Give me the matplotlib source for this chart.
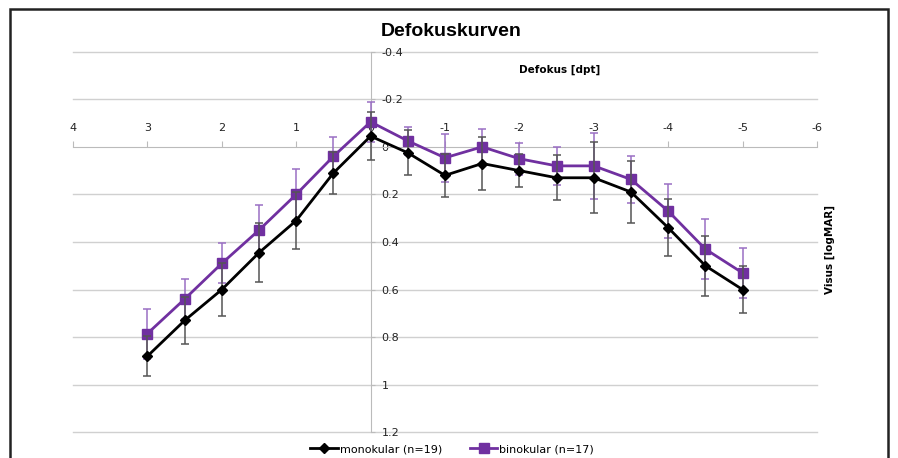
import matplotlib.pyplot as plt
from matplotlib.patches import Rectangle
from matplotlib.lines import Line2D

# defocus in dpt
defokus = [3, 2.5, 2, 1.5, 1, 0.5, 0, -0.5, -1, -1.5, -2, -2.5, -3, -3.5, -4, -4.5, -5]

# visus logMAR, mean and sd
mono = [0.88, 0.73, 0.60, 0.445, 0.31, 0.11, -0.045, 0.025, 0.12, 0.07, 0.10, 0.13, 0.13, 0.19, 0.34, 0.50, 0.60]
mono_sd = [0.085, 0.10, 0.11, 0.125, 0.12, 0.087, 0.10, 0.095, 0.09, 0.11, 0.07, 0.095, 0.15, 0.13, 0.12, 0.125, 0.10]
bino = [0.785, 0.64, 0.49, 0.35, 0.20, 0.04, -0.105, -0.025, 0.046, 0.0, 0.05, 0.08, 0.08, 0.137, 0.27, 0.43, 0.53]
bino_sd = [0.105, 0.085, 0.084, 0.105, 0.108, 0.08, 0.085, 0.06, 0.10, 0.077, 0.067, 0.08, 0.14, 0.10, 0.115, 0.125, 0.106]

x_ticks = [4, 3, 2, 1, 0, -1, -2, -3, -4, -5, -6]
y_ticks = [-0.4, -0.2, 0, 0.2, 0.4, 0.6, 0.8, 1, 1.2]
y_labels = ['-0.4', '-0.2', '0', '0.2', '0.4', '0.6', '0.8', '1', '1.2']

W, H = 898, 458
fig = plt.figure(figsize=(W / 100, H / 100), dpi=100)
fig.patches.append(Rectangle((10 / W, -0.1), 878 / W, 1.1 - 9 / H, transform=fig.transFigure,
                             fill=False, edgecolor='#222222', linewidth=1.8))

ax = fig.add_axes([73 / W, 1 - 432.3 / H, (817 - 73) / W, (432.3 - 51.7) / H])
ax.set_xlim(4, -6)
ax.set_ylim(1.2, -0.4)

for yv in y_ticks:
    if yv != 0:
        ax.axhline(yv, color='#d0d0d0', linewidth=1.0, zorder=0, clip_on=False)

for s in ['left', 'bottom']:
    ax.spines[s].set_visible(False)
ax.spines['top'].set_position(('data', 0))
ax.spines['top'].set_color('#bbbbbb')
ax.spines['right'].set_position(('data', 0))
ax.spines['right'].set_color('#bbbbbb')
ax.xaxis.set_ticks_position('top')
ax.yaxis.set_ticks_position('right')
ax.set_xticks(x_ticks)
ax.set_xticklabels([str(v) for v in x_ticks])
ax.set_yticks(y_ticks)
ax.set_yticklabels(y_labels)
ax.tick_params(axis='x', colors='#bbbbbb', labelcolor='#222222', length=4, pad=6, labelsize=8)
ax.tick_params(axis='y', colors='#bbbbbb', labelcolor='#222222', length=3, pad=5, labelsize=8)

ax.errorbar(defokus, bino, yerr=bino_sd, color='#7030a0', ecolor='#9a6fc4', elinewidth=1.1,
            capsize=3, capthick=1.1, marker='s', markersize=7, linewidth=2, zorder=3)
ax.errorbar(defokus, mono, yerr=mono_sd, color='black', ecolor='#555555', elinewidth=1.1,
            capsize=3, capthick=1.1, marker='D', markersize=5, linewidth=2, zorder=4)

fig.text(451 / W, 1 - 31 / H, 'Defokuskurven', ha='center', va='center',
         fontsize=14, fontweight='bold', family='Liberation Sans')
fig.text(560 / W, 1 - 70 / H, 'Defokus [dpt]', ha='center', va='center',
         fontsize=7.5, fontweight='bold')
fig.text(830 / W, 1 - 250 / H, 'Visus [logMAR]', ha='center', va='center',
         fontsize=7.5, fontweight='bold', rotation=90)

handles = [Line2D([], [], color='black', marker='D', markersize=5, linewidth=2),
           Line2D([], [], color='#7030a0', marker='s', markersize=7, linewidth=2)]
labels = ['monokular (n=19)', 'binokular (n=17)']
fig.legend(handles, labels, loc='center', bbox_to_anchor=(452 / W, 1 - 449 / H),
           ncol=2, frameon=False, fontsize=8, handlelength=2.5, handletextpad=0.15,
           columnspacing=2.5, borderpad=0)

fig.savefig('out.png', dpi=100)
